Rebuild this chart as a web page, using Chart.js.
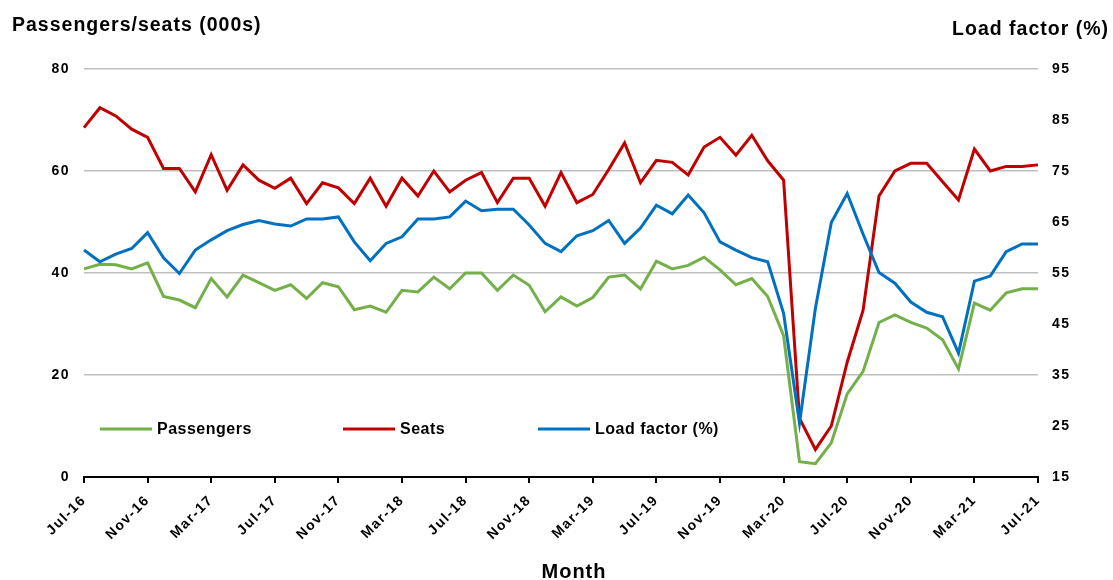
<!DOCTYPE html>
<html>
<head>
<meta charset="utf-8">
<script src="https://cdn.jsdelivr.net/npm/chart.js@4"></script>
<style>
  body { margin: 0; background: #fff; }
  #caixa { width: 1113px; height: 580px; position: relative; }
</style>
</head>
<body>
<div id="caixa"><canvas id="grafico-linha"></canvas></div>
<script>
// meses (eixo X)
const meses = [
  'Jul-16','Aug-16','Sep-16','Oct-16','Nov-16','Dec-16',
  'Jan-17','Feb-17','Mar-17','Apr-17','May-17','Jun-17','Jul-17','Aug-17','Sep-17','Oct-17','Nov-17','Dec-17',
  'Jan-18','Feb-18','Mar-18','Apr-18','May-18','Jun-18','Jul-18','Aug-18','Sep-18','Oct-18','Nov-18','Dec-18',
  'Jan-19','Feb-19','Mar-19','Apr-19','May-19','Jun-19','Jul-19','Aug-19','Sep-19','Oct-19','Nov-19','Dec-19',
  'Jan-20','Feb-20','Mar-20','Apr-20','May-20','Jun-20','Jul-20','Aug-20','Sep-20','Oct-20','Nov-20','Dec-20',
  'Jan-21','Feb-21','Mar-21','Apr-21','May-21','Jun-21','Jul-21'
];

// passageiros (milhares)
const passageiros = [
  40.8, 41.7, 41.6, 40.8, 42.0, 35.4, 34.7, 33.2, 38.9, 35.3,
  39.6, 38.1, 36.6, 37.7, 35.0, 38.1, 37.3, 32.8, 33.5, 32.3,
  36.6, 36.3, 39.2, 36.9, 40.0, 40.0, 36.6, 39.6, 37.6, 32.4,
  35.3, 33.5, 35.2, 39.2, 39.6, 36.9, 42.3, 40.8, 41.5, 43.1,
  40.6, 37.7, 38.9, 35.4, 27.7, 3.0, 2.6, 6.7, 16.3, 20.7,
  30.3, 31.8, 30.3, 29.2, 26.9, 21.2, 34.1, 32.7, 36.1, 36.9, 36.9
];

// assentos (milhares)
const assentos = [
  68.5, 72.4, 70.8, 68.2, 66.6, 60.5, 60.5, 55.9, 63.2, 56.2,
  61.2, 58.2, 56.6, 58.6, 53.6, 57.7, 56.7, 53.6, 58.6, 53.1,
  58.6, 55.1, 60.0, 55.9, 58.2, 59.7, 53.8, 58.6, 58.6, 53.1,
  59.7, 53.8, 55.4, 60.3, 65.5, 57.7, 62.1, 61.7, 59.2, 64.7,
  66.6, 63.1, 67.0, 62.0, 58.2, 11.5, 5.4, 10.0, 22.5, 32.7,
  55.1, 60.0, 61.5, 61.5, 57.9, 54.3, 64.3, 60.0, 60.9, 60.9, 61.2
];

// taxa de ocupação (%) - eixo da direita
const taxaOcupacao = [
  59.5, 57.2, 58.7, 59.8, 62.9, 58.0, 54.9, 59.5, 61.5, 63.3,
  64.5, 65.3, 64.6, 64.2, 65.6, 65.6, 66.0, 61.1, 57.4, 60.8,
  62.1, 65.6, 65.6, 66.0, 69.1, 67.2, 67.5, 67.5, 64.4, 60.8,
  59.2, 62.3, 63.3, 65.3, 60.8, 63.8, 68.3, 66.6, 70.3, 66.8,
  61.1, 59.5, 58.0, 57.2, 47.1, 25.6, 48.1, 64.9, 70.6, 62.6,
  55.1, 53.0, 49.3, 47.3, 46.4, 39.3, 53.4, 54.4, 59.2, 60.7, 60.7
];

const fonte = '"Liberation Sans", Arial, sans-serif';
const posLegenda = [100, 343, 538];

// titulos dos eixos + legenda dentro da area do grafico
const textosExtras = {
  id: 'textosExtras',
  beforeLayout(chart) { chart.ctx.letterSpacing = '1.5px'; },
  beforeDraw(chart) { chart.ctx.letterSpacing = '1.5px'; },
  afterDraw(chart) {
    const ctx = chart.ctx;
    ctx.save();
    ctx.fillStyle = '#000';
    ctx.letterSpacing = '1px';
    ctx.font = 'bold 19.5px ' + fonte;
    ctx.textBaseline = 'alphabetic';
    ctx.textAlign = 'left';
    ctx.fillText('Passengers/seats (000s)', 12, 31);
    ctx.textAlign = 'right';
    ctx.fillText('Load factor (%)', 1109, 35);
    ctx.font = 'bold 20px ' + fonte;
    ctx.textAlign = 'center';
    ctx.fillText('Month', 574, 578);

    ctx.letterSpacing = '0.5px';
    ctx.font = 'bold 16px ' + fonte;
    ctx.textAlign = 'left';
    ctx.textBaseline = 'middle';
    chart.data.datasets.forEach((ds, i) => {
      const x = posLegenda[i];
      ctx.strokeStyle = ds.borderColor;
      ctx.lineWidth = 3;
      ctx.beginPath();
      ctx.moveTo(x, 429);
      ctx.lineTo(x + 52, 429);
      ctx.stroke();
      ctx.fillText(ds.label, x + 57, 430);
    });
    ctx.restore();
  }
};

const contexto = document.getElementById('grafico-linha').getContext('2d');
new Chart(contexto, {
  type: 'line',
  data: {
    labels: meses,
    datasets: [
      {
        label: 'Passengers',
        data: passageiros,
        borderColor: '#74AF49',
        backgroundColor: '#74AF49',
        borderWidth: 3,
        pointRadius: 0,
        tension: 0,
        yAxisID: 'y',
        order: 3
      },
      {
        label: 'Seats',
        data: assentos,
        borderColor: '#C00000',
        backgroundColor: '#C00000',
        borderWidth: 3,
        pointRadius: 0,
        tension: 0,
        yAxisID: 'y',
        order: 2
      },
      {
        label: 'Load factor (%)',
        data: taxaOcupacao,
        borderColor: '#0070C0',
        backgroundColor: '#0070C0',
        borderWidth: 3,
        pointRadius: 0,
        tension: 0,
        yAxisID: 'y2',
        order: 1
      }
    ]
  },
  options: {
    responsive: true,
    maintainAspectRatio: false,
    animation: false,
    layout: { padding: { top: 69, left: 0, right: 0, bottom: 0 } },
    plugins: {
      legend: { display: false },
      tooltip: { enabled: false }
    },
    scales: {
      x: {
        offset: false,
        afterFit: (s) => { s.height = 103; },
        grid: {
          drawOnChartArea: false,
          drawTicks: true,
          tickLength: 6,
          color: '#000',
          lineWidth: 2
        },
        border: { display: true, color: '#000', width: 2 },
        ticks: {
          autoSkip: false,
          maxRotation: 45,
          minRotation: 45,
          padding: 9,
          color: '#000',
          font: { family: fonte, size: 14, weight: 'bold' },
          callback: (v, i) => (i % 4 === 0 ? meses[i] : null)
        }
      },
      y: {
        position: 'left',
        min: 0,
        max: 80,
        afterFit: (s) => { s.width = 84; },
        grid: {
          color: (c) => (c.tick && c.tick.value === 0 ? 'rgba(0,0,0,0)' : '#BFBFBF'),
          lineWidth: 1.5,
          drawTicks: false
        },
        border: { display: false },
        ticks: {
          stepSize: 20,
          padding: 14,
          color: '#000',
          font: { family: fonte, size: 14, weight: 'bold' }
        }
      },
      y2: {
        position: 'right',
        min: 15,
        max: 95,
        afterFit: (s) => { s.width = 75; },
        grid: { drawOnChartArea: false, drawTicks: false },
        border: { display: false },
        ticks: {
          stepSize: 10,
          padding: 14,
          color: '#000',
          font: { family: fonte, size: 14, weight: 'bold' }
        }
      }
    }
  },
  plugins: [textosExtras]
});
</script>
</body>
</html>
